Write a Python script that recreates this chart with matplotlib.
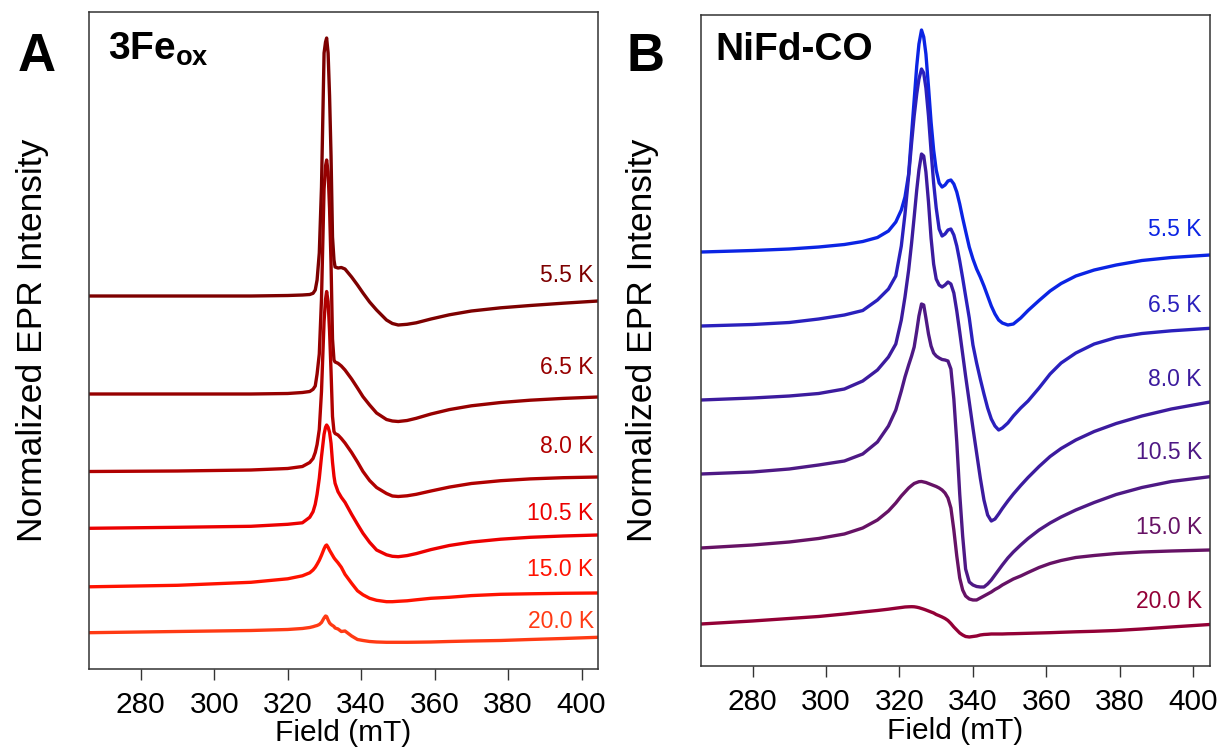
import numpy as np
import matplotlib
matplotlib.use('Agg')
import matplotlib.pyplot as plt

plt.rcParams['font.family'] = 'Liberation Sans'
plt.rcParams['mathtext.fontset'] = 'custom'
plt.rcParams['mathtext.rm'] = 'Liberation Sans'
plt.rcParams['mathtext.bf'] = 'Liberation Sans:bold'

temps = ['5.5 K', '6.5 K', '8.0 K', '10.5 K', '15.0 K', '20.0 K']

# ---- panel A: 3Fe(ox) ----
field_a = [266, 290, 310, 320, 324, 326.0, 326.9, 327.5, 328.0, 328.6, 329.2, 329.9,
           330.3, 330.6, 331.0, 331.4, 331.8, 332.2, 332.6, 332.9, 333.7, 334.6,
           335.6, 337.4, 339.0, 340.5, 342.3, 344.2, 346.9, 348.5, 350.1, 352.5,
           355, 359, 364, 370, 378, 386, 395, 404.5]
fe_55 = [0, 0, 0, 0.5, 1, 1.5, 2.7, 6, 16, 43, 109, 243, 254, 258, 243, 200, 140, 59,
         36, 29, 28, 28.5, 27, 19, 11, 3, -6, -14, -24, -27.5, -29, -28.3, -26.8, -23,
         -18.8, -15, -11.8, -9.5, -7.2, -5]
fe_65 = [0, 0, 0, 0.5, 1.5, 2.5, 4.7, 8, 20, 40, 95, 205, 228, 234, 222, 185, 130, 55,
         34, 32, 30.7, 28, 24, 15, 6, -2.7, -11, -19, -25.5, -27, -27.5, -26.5, -24.3,
         -20, -15.6, -11.8, -8.5, -6.2, -4.4, -3]
fe_80 = [0, 0.5, 1.5, 3, 5, 9, 13, 19, 27, 42, 80, 150, 172, 180, 170, 140, 100, 55,
         40, 38, 36.5, 33, 28.5, 19, 9.5, 0, -9, -16, -22, -24.5, -25, -24.3, -22.8,
         -19.5, -15.6, -12, -9.2, -7.4, -6.2, -5.5]
fe_105 = [0, 1, 2, 4, 5.5, 11, 16.6, 24, 34, 50, 71.6, 94, 101, 103.3, 101, 96, 85, 66,
          52, 45, 36.6, 31, 26, 14, 4, -5, -14, -21.7, -26.5, -28, -28.4, -27.3, -25.3,
          -21.3, -17.2, -13.8, -10.9, -9, -7.7, -6.7]
fe_150 = [-3.5, -2, 1, 4.5, 7.5, 10.5, 13.3, 16, 19, 23, 28, 34.5, 37.5, 38.3, 36, 33,
          30.5, 28, 25.5, 24, 20.5, 16, 9, 0, -7.5, -11.5, -15, -17, -18.4, -18.4,
          -18, -17.5, -16.5, -15, -14, -12.3, -11, -10.5, -10, -9.7]
fe_200 = [-2.7, -1.5, -0.5, 0.5, 1.5, 2.5, 3.3, 4, 4.5, 5.5, 7.5, 12, 14, 13.5, 10, 7,
          5.5, 4.5, 3.5, 2, 1, -1.5, -1, -6, -9.5, -10.5, -11.5, -12, -12.3, -12.3,
          -12.3, -12.3, -12.2, -12, -11.5, -11, -10.5, -9.5, -8.5, -7.3]
offsets_a = [373, 275, 197.5, 140.7, 85.7, 39]
label_y_a = [393.5, 301.5, 222, 155, 99, 47]
colors_a = ['#7d0000', '#960000', '#b00000', '#ec0000', '#ff1200', '#ff3a14']

# ---- panel B: NiFd-CO ----
field_b = [266, 280, 290, 298, 305, 310, 314, 317, 319, 320.5, 321.5, 322.5, 323.3,
           324.0, 324.7, 325.3, 326.0, 326.6, 327.2, 327.9, 328.6, 329.3, 330.0,
           330.8, 331.6, 332.4, 333.2, 334.0, 334.8, 335.6, 336.4, 337.2, 338.0,
           339.0, 340.0, 341.0, 342.0, 343.0, 344.0, 345.0, 346.0, 347.0, 348.0,
           349.5, 351, 353, 355, 358, 361, 364, 368, 373, 379, 386, 394, 404.5]
ni_55 = [0, 1.5, 3, 5, 7.5, 10.5, 14.5, 21, 30, 42, 55, 78, 118, 152, 186, 208, 222,
         215, 198, 165, 130, 102, 82, 69, 65, 67, 71, 72, 68, 60, 48, 34, 21, 5, -7,
         -17, -25, -34, -44, -54, -62, -68, -71, -73, -72, -66, -58.5, -48.5, -39,
         -31.5, -24, -18, -13, -8.5, -5.5, -3]
ni_65 = [0, 1.5, 3.5, 7, 11, 15.5, 26, 37, 50, 80, 112, 150, 183, 210, 232, 247, 257,
         253, 238, 210, 175, 143, 118, 97, 90, 92, 96, 97, 91, 80, 65, 48, 30, 8, -19,
         -37, -53, -68, -82, -93, -100, -104, -102, -97, -90, -82, -75, -62, -48, -37,
         -27, -18, -11.5, -7.5, -4.8, -2.3]
ni_80 = [0, 2, 4, 6.5, 11, 19, 30, 43, 56, 80, 103, 130, 157, 183, 210, 230, 246, 244,
         228, 198, 162, 136, 121, 115, 113, 115, 118, 116, 107, 89, 68, 46, 24, -2,
         -28, -53, -78, -100, -115, -121, -119, -114, -108.5, -101, -94, -85.5, -77.5,
         -66.5, -56.5, -48.5, -40, -31.5, -23.5, -16, -9, -2]
ni_105 = [0, 2, 5, 9, 13, 20, 32, 48, 64, 83, 97, 109, 118, 127, 143, 158, 170, 169,
          156, 140, 128, 121, 118, 116, 114.5, 114, 113, 105, 75, 32, -20, -62, -95,
          -108, -111, -112.5, -113, -113, -110, -106, -101, -96, -91, -84, -78, -71,
          -64.5, -56, -49, -43, -36, -28.5, -20.5, -13.5, -7.5, -2.7]
ni_150 = [0, 3, 6, 9.5, 14, 20, 28, 37, 45, 52, 56, 60, 62.5, 64.5, 65.5, 66.3, 66.5,
          66, 65.5, 64.5, 63.5, 62.5, 61.5, 60, 58, 55, 50, 40, 18, -8, -30, -42, -48,
          -51, -52, -52, -50, -48, -46, -44, -41.5, -39.5, -37, -34, -31, -28, -24.5,
          -19.5, -15.5, -12.5, -9.5, -7.5, -5.5, -4, -3, -2]
ni_200 = [0, 3, 5.5, 7.5, 10, 12, 13.5, 14.8, 15.8, 16.5, 17, 17.2, 17.3, 17.2, 16.8,
          16.3, 15.5, 14.8, 14, 13, 12, 11, 9.5, 8.3, 7, 5.5, 3.5, 0.5, -3, -6, -9,
          -11, -12.5, -13, -12.5, -12, -11, -10.5, -10.3, -10, -10, -10, -10, -9.8,
          -9.7, -9.5, -9.3, -9, -8.7, -8.3, -7.8, -7.3, -6.5, -5, -3, -0.5]
offsets_b = [414, 340, 266, 192, 118, 42]
label_y_b = [436.5, 361, 287, 213, 138, 64.3]
colors_b = ['#0b24e4', '#2a20bd', '#3c1b9e', '#4e1985', '#661265', '#930036']

x_ticks = [280, 300, 320, 340, 360, 380, 400]

fig = plt.figure(figsize=(12.21, 7.51), dpi=100)
ax_a = fig.add_axes([0.0729, 0.1092, 0.4169, 0.8744])
ax_b = fig.add_axes([0.5739, 0.1132, 0.4170, 0.8668])


def draw_panel(ax, field, spectra, offsets, colors, label_y, label_x, ytop):
    for spec, off, col, t, ly in zip(spectra, offsets, colors, temps, label_y):
        ax.plot(field, np.array(spec) + off, color=col, lw=2.4,
                solid_joinstyle='round', solid_capstyle='round')
        ax.text(label_x, ly, t, color=col, fontsize=16.5, ha='right', va='center')
    ax.set_xlim(265.9, 404.5)
    ax.set_ylim(0, ytop)
    ax.set_yticks([])
    ax.set_xticks(x_ticks)
    ax.tick_params(axis='x', direction='out', length=8, width=1, color='#333333',
                   labelsize=21.5, pad=8)
    for sp in ax.spines.values():
        sp.set_color('#333333')
        sp.set_linewidth(1.1)
    ax.set_xlabel('Field (mT)', fontsize=21.5)
    ax.set_ylabel('Normalized EPR Intensity', fontsize=25.5)


draw_panel(ax_a, field_a, [fe_55, fe_65, fe_80, fe_105, fe_150, fe_200],
           offsets_a, colors_a, label_y_a, 403.3, 656.7)
draw_panel(ax_b, field_b, [ni_55, ni_65, ni_80, ni_105, ni_150, ni_200],
           offsets_b, colors_b, label_y_b, 402.3, 651)

ax_a.xaxis.set_label_coords(0.5, -0.076)
ax_b.xaxis.set_label_coords(0.5, -0.078)
ax_a.yaxis.set_label_coords(-0.079, 0.5)
ax_b.yaxis.set_label_coords(-0.082, 0.5)

fig.text(0.0142, 0.9059, 'A', fontsize=38, fontweight='bold', va='baseline')
fig.text(0.5133, 0.9059, 'B', fontsize=38, fontweight='bold', va='baseline')
fig.text(0.0887, 0.9201, r'$\mathbf{3Fe}_{\mathbf{ox}}$', fontsize=28, va='baseline')
fig.text(0.5856, 0.9201, 'NiFd-CO', fontsize=28, fontweight='bold', va='baseline')

fig.savefig('out.png', dpi=100)
